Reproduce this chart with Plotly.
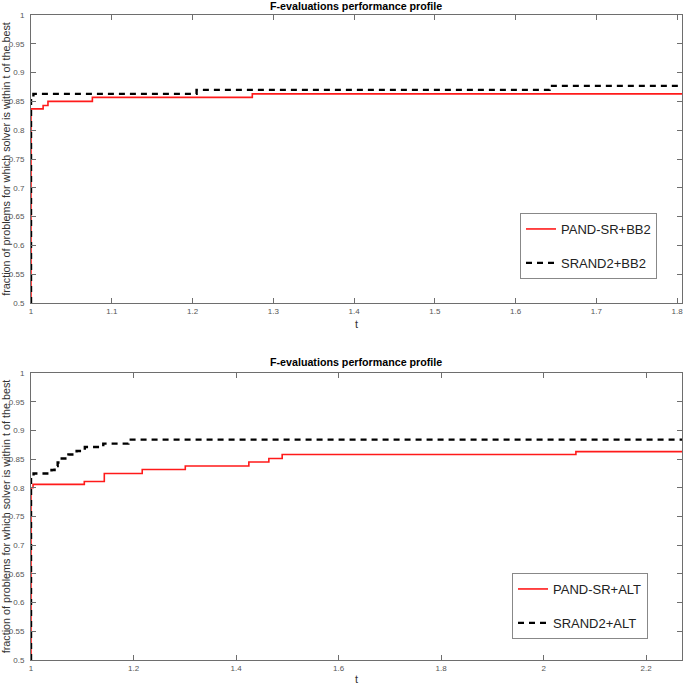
"""Performance profiles (F-evaluations) for two solver pairs, MATLAB-like style."""

import plotly.graph_objects as go

# ---- data ------------------------------------------------------------------
# top panel: PAND-SR+BB2 vs SRAND2+BB2
bb2_pand_t = [1.0, 1.0, 1.015, 1.021, 1.076, 1.274, 1.806]
bb2_pand_frac = [0.5, 0.837, 0.843, 0.850, 0.857, 0.863, 0.863]
bb2_srand_t = [1.0, 1.0, 1.003, 1.205, 1.642, 1.806]
bb2_srand_frac = [0.5, 0.856, 0.863, 0.870, 0.877, 0.877]

# bottom panel: PAND-SR+ALT vs SRAND2+ALT
alt_pand_t = [1.0, 1.0, 1.004, 1.104, 1.143, 1.217, 1.301, 1.425, 1.464, 1.490, 2.063, 2.27]
alt_pand_frac = [0.5, 0.800, 0.806, 0.811, 0.825, 0.832, 0.838, 0.845, 0.851, 0.858, 0.863, 0.863]
alt_srand_t = [1.0, 1.0, 1.005, 1.040, 1.046, 1.052, 1.057, 1.073, 1.089, 1.105, 1.141, 1.190, 2.27]
alt_srand_frac = [0.5, 0.818, 0.825, 0.831, 0.838, 0.844, 0.851, 0.858, 0.864, 0.871, 0.877, 0.884, 0.884]

y_ticks = [0.5, 0.55, 0.6, 0.65, 0.7, 0.75, 0.8, 0.85, 0.9, 0.95, 1.0]
y_tick_text = ['0.5', '0.55', '0.6', '0.65', '0.7', '0.75', '0.8', '0.85', '0.9', '0.95', '1']
top_x_ticks = [1, 1.1, 1.2, 1.3, 1.4, 1.5, 1.6, 1.7, 1.8]
top_x_text = ['1', '1.1', '1.2', '1.3', '1.4', '1.5', '1.6', '1.7', '1.8']
bot_x_ticks = [1, 1.2, 1.4, 1.6, 1.8, 2.0, 2.2]
bot_x_text = ['1', '1.2', '1.4', '1.6', '1.8', '2', '2.2']

TITLE = 'F-evaluations performance profile'
YLABEL = 'fraction of problems for which solver is within t of the best'

FONT = 'Liberation Sans, Arial, Helvetica, sans-serif'
AXIS_GREY = '#6e6e6e'
RED = '#ff1a1a'

W = H = 685
# plot area in pixels (left, right, top, bottom)
PL, PR, PT, PB = 31, 682, 15, 660


def px_x(p):
    return (p - PL) / (PR - PL)


def px_y(p):
    return (PB - p) / (PB - PT)


fig = go.Figure()

# top panel traces
fig.add_trace(go.Scatter(
    x=bb2_pand_t, y=bb2_pand_frac, name='PAND-SR+BB2', mode='lines',
    line=dict(color=RED, width=1.6, shape='hv'),
    xaxis='x', yaxis='y', legend='legend', legendgroup='a'
))
fig.add_trace(go.Scatter(
    x=bb2_srand_t, y=bb2_srand_frac, name='SRAND2+BB2', mode='lines',
    line=dict(color='black', width=2.4, dash='6px,5px', shape='hv'),
    xaxis='x', yaxis='y', legend='legend', legendgroup='b'
))

# bottom panel traces
fig.add_trace(go.Scatter(
    x=alt_pand_t, y=alt_pand_frac, name='PAND-SR+ALT', mode='lines',
    line=dict(color=RED, width=1.6, shape='hv'),
    xaxis='x2', yaxis='y2', legend='legend2', legendgroup='c'
))
fig.add_trace(go.Scatter(
    x=alt_srand_t, y=alt_srand_frac, name='SRAND2+ALT', mode='lines',
    line=dict(color='black', width=2.4, dash='6px,5px', shape='hv'),
    xaxis='x2', yaxis='y2', legend='legend2', legendgroup='d'
))

axis_style = dict(
    showgrid=False, zeroline=False, automargin=False,
    showline=True, linecolor=AXIS_GREY, linewidth=1, mirror='ticks',
    ticks='inside', ticklen=5, tickcolor=AXIS_GREY, tickwidth=1,
    tickfont=dict(family=FONT, size=8, color='#555555'),
)
ytitle = dict(text=YLABEL, standoff=3, font=dict(family=FONT, size=10.8, color='#333333'))
xtitle = dict(text='t', standoff=5, font=dict(family=FONT, size=11, color='#333333'))

fig.update_layout(
    width=W, height=H,
    margin=dict(l=PL, r=W - PR, t=PT, b=H - PB, autoexpand=False),
    paper_bgcolor='white', plot_bgcolor='white',
    font=dict(family=FONT, color='#333333'),
    xaxis=dict(domain=[0, 1], range=[1, 1.806], anchor='y', title=xtitle,
               tickvals=top_x_ticks, ticktext=top_x_text, **axis_style),
    yaxis=dict(domain=[px_y(303), 1], range=[0.5, 1], anchor='x', title=ytitle,
               tickvals=y_ticks, ticktext=y_tick_text, ticklabelstandoff=4,
               **axis_style),
    xaxis2=dict(domain=[0, 1], range=[1, 2.27], anchor='y2', title=xtitle,
                tickvals=bot_x_ticks, ticktext=bot_x_text, **axis_style),
    yaxis2=dict(domain=[0, px_y(373)], range=[0.5, 1], anchor='x2', title=ytitle,
                tickvals=y_ticks, ticktext=y_tick_text, ticklabelstandoff=4,
                **axis_style),
    legend=dict(
        x=px_x(520), y=px_y(213), xanchor='left', yanchor='top',
        bgcolor='white', bordercolor='#888888', borderwidth=1,
        font=dict(family=FONT, size=13, color='#222222'),
        tracegroupgap=14, itemwidth=30,
    ),
    legend2=dict(
        x=px_x(512), y=px_y(573), xanchor='left', yanchor='top',
        bgcolor='white', bordercolor='#888888', borderwidth=1,
        font=dict(family=FONT, size=13, color='#222222'),
        tracegroupgap=14, itemwidth=30,
    ),
    showlegend=True,
)

# panel titles
for title_y in (6, 362):
    fig.add_annotation(text='<b>' + TITLE + '</b>', x=px_x(356), y=px_y(title_y),
                       xref='paper', yref='paper', yanchor='middle',
                       xanchor='center', showarrow=False,
                       font=dict(family=FONT, size=10.7, color='black'))

# drop the browser's default 8px body margin so the figure sits at (0, 0)
fig.write_html("out.html", config={'displayModeBar': False},
               post_script="document.body.style.margin='0';")
